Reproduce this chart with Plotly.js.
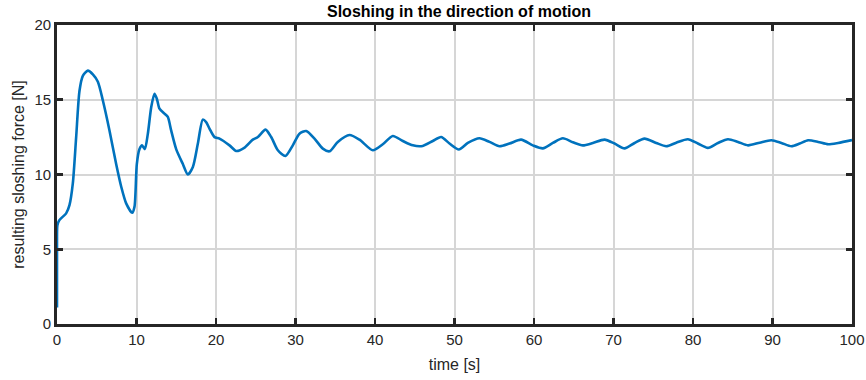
<!DOCTYPE html>
<html><head><meta charset="utf-8">
<script src="https://cdn.plot.ly/plotly-3.0.1.min.js"></script>
<style>body{margin:0;background:#fff}#chart{width:866px;height:380px}</style>
</head><body><div id="chart"></div>
<script>
const timeS = [0,0,0.05,0.3,1.15,1.57,1.99,2.41,2.83,3.25,3.88,4.51,5.14,5.77,6.6,7.44,8.07,8.7,9.46,9.75,10.04,10.38,10.7,11.05,11.42,11.85,12.26,12.56,12.89,13.52,13.94,14.36,14.99,15.83,16.46,17.09,17.72,18.34,18.76,19.18,19.81,20.44,21.7,22.54,23.6,24.63,25.27,26.23,26.94,27.78,28.74,29.66,30.5,31.34,32.39,33.44,34.28,35.32,36.79,38.05,39.73,40.98,42.24,43.5,44.76,46.0,47.27,48.32,49.37,50.55,51.68,53.14,54.4,55.66,56.92,58.38,59.85,61.11,62.37,63.63,64.89,66.15,67.41,68.87,70.13,71.39,72.65,73.9,75.37,76.63,77.89,79.35,80.61,81.87,83.14,84.4,85.66,86.92,88.39,89.86,91.12,92.38,93.43,94.48,95.74,97.0,98.26,100];
const forceN = [1.1,5.5,6.6,6.95,7.4,7.95,9.4,12.5,15.6,16.6,16.95,16.7,16.2,14.95,12.95,10.7,9.2,8.07,7.44,7.85,10.7,11.7,11.95,11.7,12.7,14.5,15.4,15.07,14.4,14.07,13.85,12.95,11.7,10.7,10.0,10.5,12.07,13.67,13.5,13.07,12.5,12.4,11.95,11.57,11.8,12.33,12.51,13.0,12.51,11.62,11.24,11.95,12.73,12.91,12.4,11.73,11.55,12.18,12.64,12.33,11.62,12.02,12.58,12.24,11.95,11.91,12.24,12.51,12.07,11.67,12.11,12.42,12.18,11.89,12.07,12.33,11.95,11.75,12.11,12.42,12.16,11.95,12.11,12.33,12.07,11.75,12.11,12.4,12.11,11.89,12.13,12.36,12.07,11.78,12.11,12.36,12.18,11.95,12.13,12.29,12.11,11.89,12.07,12.29,12.18,12.02,12.11,12.3];
const xTicks = [0,10,20,30,40,50,60,70,80,90,100];
const yTicks = [0,5,10,15,20];
const font = '"Liberation Sans Narrow", "Arial Narrow", "Liberation Sans", Arial, sans-serif';
const axisBase = {
  showline:true, linecolor:'#262626', linewidth:2.8, mirror:'ticks',
  ticks:'inside', ticklen:6, tickwidth:2.8, tickcolor:'#262626',
  showgrid:true, gridcolor:'#d6d6d6', gridwidth:2, zeroline:false,
  tickfont:{family:font, size:15, color:'#262626'}
};
Plotly.newPlot('chart', [{
  x: timeS, y: forceN, type:'scatter', mode:'lines',
  line:{color:'#0072BD', width:2.6, shape:'spline', smoothing:0.7}
}], {
  width:866, height:380,
  margin:{l:57, r:14, t:25, b:56},
  paper_bgcolor:'#fff', plot_bgcolor:'#fff',
  showlegend:false,
  title:{text:'<b>Sloshing in the direction of motion</b>', font:{family:font, size:16, color:'#000'}, x:0.53, xanchor:'center', y:0.985, yanchor:'top'},
  xaxis: Object.assign({}, axisBase, {range:[0,100], tickvals:xTicks, ticktext:xTicks.map(String),
    title:{text:'time [s]', font:{family:font, size:16, color:'#262626'}, standoff:12}}),
  yaxis: Object.assign({}, axisBase, {range:[0,20], tickvals:yTicks, ticktext:yTicks.map(String),
    title:{text:'resulting sloshing force [N]', font:{family:font, size:16, color:'#262626'}, standoff:6}})
}, {displayModeBar:false, staticPlot:true});
</script></body></html>
